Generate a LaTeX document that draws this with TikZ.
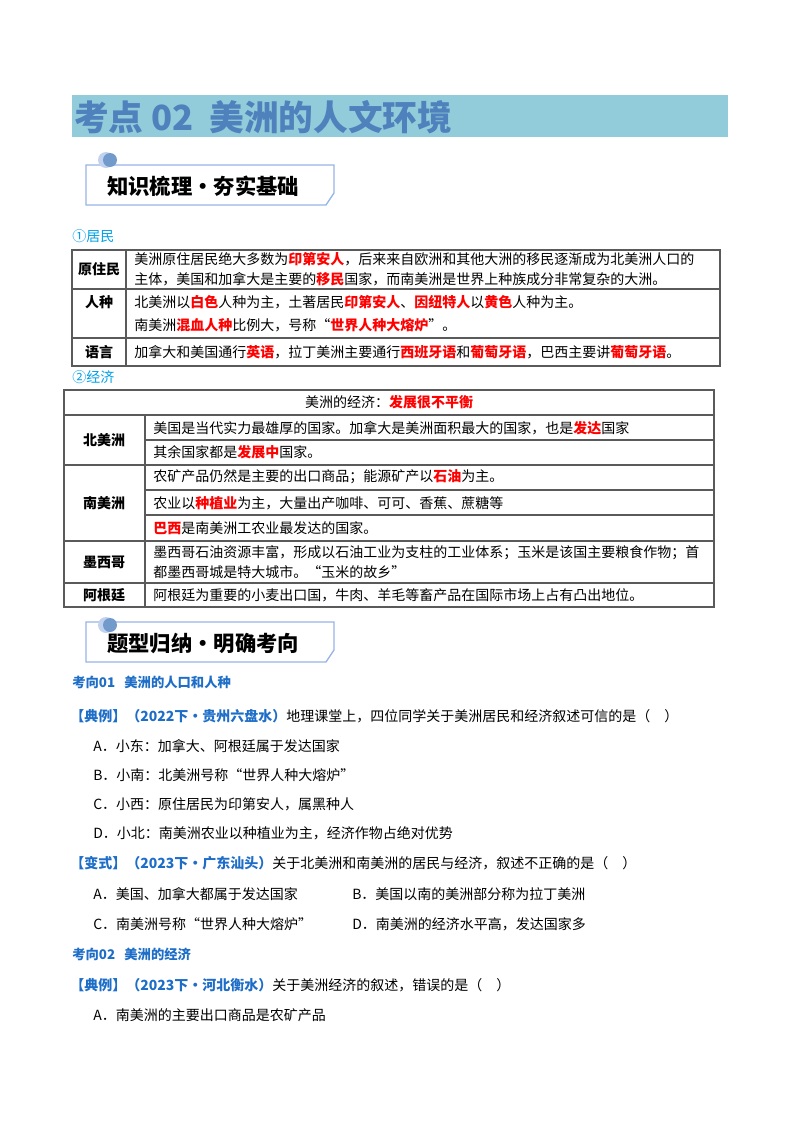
\documentclass[tikz,border=0pt]{standalone}
\usepackage{fontspec}
\setmainfont{Noto Sans CJK SC}
\usetikzlibrary{positioning}
\definecolor{TitleBar}{RGB}{146,203,217}
\definecolor{TitleText}{RGB}{79,129,189}
\definecolor{SecBlue}{RGB}{0,160,230}
\definecolor{TagBlue}{RGB}{30,110,200}
\definecolor{BannerLine}{RGB}{150,180,230}
\definecolor{RuleGray}{RGB}{90,90,90}
\newcommand{\hl}[1]{{\bfseries\color{red}#1}}

\begin{document}
\begin{tikzpicture}[x=0.75pt,y=-0.75pt,
        % body text
        bodytext/.style={anchor=west, inner sep=0pt, font=\fontsize{10.5}{15}\selectfont, align=left},
        % first column
        headcell/.style={inner sep=0pt, font=\bfseries\fontsize{10.5}{12}\selectfont},
        % section headings
        sechead/.style={anchor=west, inner sep=0pt, font=\fontsize{10.5}{12}\selectfont, text=SecBlue},
        tagtext/.style={anchor=west, inner sep=0pt, font=\bfseries\fontsize{10}{12}\selectfont, text=TagBlue},
        bannertext/.style={anchor=west, inner sep=0pt, font=\bfseries\fontsize{16}{18}\selectfont},
        rule/.style={draw=RuleGray, line width=0.8pt}
    ]
    \useasboundingbox (0,0) rectangle (800,1132);

    % TITLE
    \fill[TitleBar] (72,95) rectangle (728,137);
    \node[anchor=west, inner sep=0pt, font=\bfseries\fontsize{26}{28}\selectfont, text=TitleText] (title) at (74,117) {考点 02\ \ 美洲的人文环境};

    % BANNER 1
    \draw[BannerLine, line width=1pt] (86,165) -- (334,165) -- (334,193) -- (326,205) -- (86,205) -- cycle;
    \fill[BannerLine!60] (106,160) circle (8);
    \fill[TitleText!80] (110,160) circle (7);
    \node[bannertext] (ban1) at (107,186) {知识梳理·夯实基础};

    % RESIDENTS
    \node[sechead] (sec1) at (72,236) {①居民};
    \draw[rule] (72,250) rectangle (720,366);
    \draw[rule] (126,250) -- (126,366);
    \draw[rule] (72,289) -- (720,289);
    \draw[rule] (72,338) -- (720,338);
    \node[headcell] (yzm) at (99,269) {原住民};
    \node[headcell] (rz) at (99,302) {人种};
    \node[headcell] (yy) at (99,352) {语言};
    \node[bodytext] (t1) at (134,269) {美洲原住居民绝大多数为\hl{印第安人}，后来来自欧洲和其他大洲的移民逐渐成为北美洲人口的\\主体，美国和加拿大是主要的\hl{移民}国家，而南美洲是世界上种族成分非常复杂的大洲。};
    \node[bodytext] (t2) at (134,302) {北美洲以\hl{白色}人种为主，土著居民\hl{印第安人}、\hl{因纽特人}以\hl{黄色}人种为主。};
    \node[bodytext] (t3) at (134,325) {南美洲\hl{混血人种}比例大，号称“\hl{世界人种大熔炉}”。};
    \node[bodytext] (t4) at (134,352) {加拿大和美国通行\hl{英语}，拉丁美洲主要通行\hl{西班牙语}和\hl{葡萄牙语}，巴西主要讲\hl{葡萄牙语}。};

    % ECONOMY
    \node[sechead] (sec2) at (72,377) {②经济};
    \draw[rule] (64,390) rectangle (714,607);
    \draw[rule] (145,415) -- (145,607);
    \foreach \yy in {415,465,541,583} \draw[rule] (64,\yy) -- (714,\yy);
    \foreach \yy in {440,490,515} \draw[rule] (145,\yy) -- (714,\yy);
    \node[inner sep=0pt, font=\fontsize{10.5}{12}\selectfont] (ehead) at (389,402) {美洲的经济：\hl{发展很不平衡}};
    \node[headcell] (bmz) at (104,440) {北美洲};
    \node[headcell] (nmz) at (104,503) {南美洲};
    \node[headcell] (mxg) at (104,562) {墨西哥};
    \node[headcell] (agt) at (104,595) {阿根廷};
    \node[bodytext] (e1) at (153,428) {美国是当代实力最雄厚的国家。加拿大是美洲面积最大的国家，也是\hl{发达}国家};
    \node[bodytext] (e2) at (153,452) {其余国家都是\hl{发展中}国家。};
    \node[bodytext] (e3) at (153,477) {农矿产品仍然是主要的出口商品；能源矿产以\hl{石油}为主。};
    \node[bodytext] (e4) at (153,503) {农业以\hl{种植业}为主，大量出产咖啡、可可、香蕉、蔗糖等};
    \node[bodytext] (e5) at (153,528) {\hl{巴西}是南美洲工农业最发达的国家。};
    \node[bodytext] (e6) at (153,562) {墨西哥石油资源丰富，形成以石油工业为支柱的工业体系；玉米是该国主要粮食作物；首\\都墨西哥城是特大城市。“玉米的故乡”};
    \node[bodytext] (e7) at (153,595) {阿根廷为重要的小麦出口国，牛肉、羊毛等畜产品在国际市场上占有凸出地位。};

    % BANNER 2
    \draw[BannerLine, line width=1pt] (86,622) -- (334,622) -- (334,650) -- (326,662) -- (86,662) -- cycle;
    \fill[BannerLine!60] (106,625) circle (8);
    \fill[TitleText!80] (110,625) circle (7);
    \node[bannertext] (ban2) at (107,643) {题型归纳·明确考向};

    % QUESTIONS
    \node[tagtext] (kx1) at (72,682) {考向01\ \ \ 美洲的人口和人种};
    \node[bodytext] (q1) at (70,716) {\textcolor{TagBlue}{\bfseries【典例】（2022下·贵州六盘水）}地理课堂上，四位同学关于美洲居民和经济叙述可信的是（\quad）};
    \node[bodytext] (q1a) at (93,746) {A．小东：加拿大、阿根廷属于发达国家};
    \node[bodytext] (q1b) at (93,775) {B．小南：北美洲号称“世界人种大熔炉”};
    \node[bodytext] (q1c) at (93,804) {C．小西：原住居民为印第安人，属黑种人};
    \node[bodytext] (q1d) at (93,833) {D．小北：南美洲农业以种植业为主，经济作物占绝对优势};
    \node[bodytext] (q2) at (70,863) {\textcolor{TagBlue}{\bfseries【变式】（2023下·广东汕头）}关于北美洲和南美洲的居民与经济，叙述不正确的是（\quad）};
    \node[bodytext] (q2a) at (93,894) {A．美国、加拿大都属于发达国家};
    \node[bodytext] (q2b) at (352,894) {B．美国以南的美洲部分称为拉丁美洲};
    \node[bodytext] (q2c) at (93,924) {C．南美洲号称“世界人种大熔炉”};
    \node[bodytext] (q2d) at (352,924) {D．南美洲的经济水平高，发达国家多};
    \node[tagtext] (kx2) at (72,954) {考向02\ \ \ 美洲的经济};
    \node[bodytext] (q3) at (70,985) {\textcolor{TagBlue}{\bfseries【典例】（2023下·河北衡水）}关于美洲经济的叙述，错误的是（\quad）};
    \node[bodytext] (q3a) at (93,1015) {A．南美洲的主要出口商品是农矿产品};

\end{tikzpicture}
\end{document}
